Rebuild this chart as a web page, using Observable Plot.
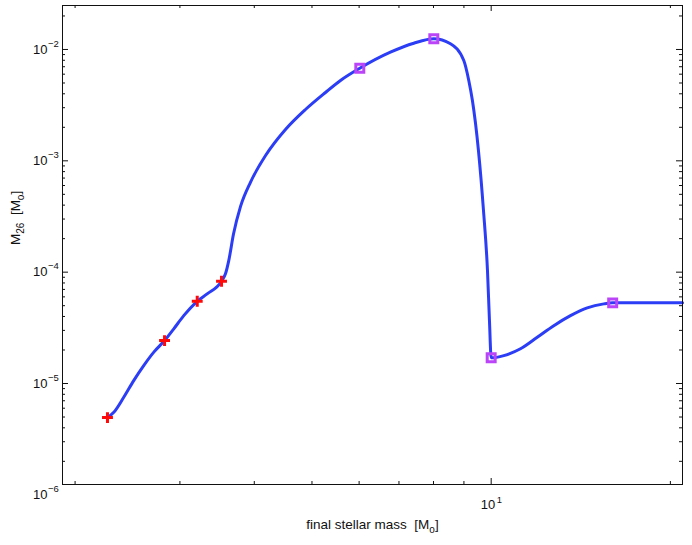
<!DOCTYPE html>
<html><head><meta charset="utf-8">
<script src="https://cdn.jsdelivr.net/npm/d3@7"></script>
<script src="https://cdn.jsdelivr.net/npm/@observablehq/plot@0.6"></script>
<style>body{margin:0;background:#fff}svg text{white-space:pre}</style>
</head><body><div id="chart"></div>
<script>
// Curve samples (final stellar mass, M26)
const curveX = [2.267, 2.323, 2.414, 2.509, 2.608, 2.712, 2.827, 2.930, 3.045, 3.208, 3.333, 3.524, 3.578, 3.624, 3.691, 3.793, 3.943, 4.178, 4.513, 4.876, 5.268, 5.583, 6.016, 6.772, 7.413, 8.01, 8.543, 8.995, 9.17, 9.30, 9.52, 9.707, 9.858, 9.934, 10.0, 10.50, 11.20, 11.95, 12.74, 13.59, 14.50, 15.46, 16.0, 20.96];
const curveY = [4.94e-6, 5.51e-6, 7.52e-6, 1.062e-5, 1.449e-5, 1.914e-5, 2.43e-5, 3.10e-5, 4.07e-5, 5.48e-5, 6.38e-5, 8.28e-5, 9.66e-5, 1.271e-4, 2.20e-4, 3.90e-4, 6.45e-4, 1.115e-3, 1.911e-3, 2.89e-3, 4.11e-3, 5.27e-3, 6.79e-3, 9.46e-3, 1.139e-2, 1.247e-2, 1.125e-2, 7.96e-3, 5.27e-3, 3.48e-3, 1.237e-3, 3.58e-4, 1.034e-4, 3.67e-5, 1.70e-5, 1.78e-5, 2.05e-5, 2.60e-5, 3.31e-5, 4.07e-5, 4.78e-5, 5.19e-5, 5.30e-5, 5.30e-5];
const plusX = [2.267, 2.827, 3.208, 3.524];
const plusY = [4.94e-6, 2.43e-5, 5.48e-5, 8.28e-5];
const squareX = [6.016, 8.01, 10.0, 16.0];
const squareY = [6.79e-3, 1.247e-2, 1.70e-5, 5.30e-5];
const xMajorTicks = [10];
const xMajorExps = ["1"];
const xMinorTicks = [2, 3, 4, 5, 6, 7, 8, 9, 20];
const yMajorTicks = [1e-2, 1e-3, 1e-4, 1e-5];
const yLabelValues = [1e-2, 1e-3, 1e-4, 1e-5, 1e-6];
const yLabelExps = ["\u22122", "\u22123", "\u22124", "\u22125", "\u22126"];
const xDomain = [1.905, 20.96];
const yDomain = [Math.pow(10, -5.907), Math.pow(10, -1.605)];

const W = 692, H = 545, mL = 62, mR = 10, mT = 5, mB = 61;
const fw = W - mL - mR, fh = H - mT - mB;

const yMinorTicks = [];
for (let e = -6; e <= -2; e++) for (let m = 2; m <= 9; m++) {
  const v = m * Math.pow(10, e);
  if (v > yDomain[0] && v < yDomain[1]) yMinorTicks.push(v);
}

const curve = curveX.map((x, i) => ({x, y: curveY[i]}));
const plus = plusX.map((x, i) => ({x, y: plusY[i]}));
const squares = squareX.map((x, i) => ({x, y: squareY[i]}));
const xLab = xMajorTicks.map((v, i) => ({v, e: xMajorExps[i]}));
const yLab = yLabelValues.map((v, i) => ({v, e: yLabelExps[i]}));

const XLABEL = "final stellar mass  [Mo]";
const YLABEL = "M26  [Mo]";
const ink = "#111";
const plot = Plot.plot({
  width: W, height: H,
  marginLeft: mL, marginRight: mR, marginTop: mT, marginBottom: mB,
  x: {type: "log", domain: xDomain, axis: null},
  y: {type: "log", domain: yDomain, axis: null},
  style: {fontFamily: "'Liberation Sans', Arial, sans-serif", background: "#fff", color: ink, overflow: "visible"},
  marks: [
    Plot.line(curve, {x: "x", y: "y", stroke: "#2b3df5", strokeWidth: 3, curve: "monotone-x"}),
    Plot.dot(squares, {x: "x", y: "y", symbol: "square", r: 4.5, stroke: "#bb44f8", strokeWidth: 3, fill: "none"}),
    Plot.dot(plus, {x: "x", y: "y", symbol: "plus", r: 3.6, stroke: "#ff0a0a", strokeWidth: 3}),
    Plot.frame({stroke: ink, strokeWidth: 1}),
    // x ticks (inward, bottom and top)
    Plot.ruleX(xMajorTicks, {x: d => d, insetTop: fh - 6, stroke: ink}),
    Plot.ruleX(xMajorTicks, {x: d => d, insetBottom: fh - 6, stroke: ink}),
    Plot.ruleX(xMinorTicks, {x: d => d, insetTop: fh - 3, stroke: ink}),
    Plot.ruleX(xMinorTicks, {x: d => d, insetBottom: fh - 3, stroke: ink}),
    // y ticks (inward, left and right)
    Plot.ruleY(yMajorTicks, {y: d => d, insetRight: fw - 6, stroke: ink}),
    Plot.ruleY(yMajorTicks, {y: d => d, insetLeft: fw - 6, stroke: ink}),
    Plot.ruleY(yMinorTicks, {y: d => d, insetRight: fw - 3, stroke: ink}),
    Plot.ruleY(yMinorTicks, {y: d => d, insetLeft: fw - 3, stroke: ink}),
    // y tick labels
    Plot.text(yLab, {y: "v", frameAnchor: "left", text: () => "10", textAnchor: "end", dx: -15, fontSize: 13, fill: ink}),
    Plot.text(yLab, {y: "v", frameAnchor: "left", text: "e", textAnchor: "start", dx: -14.5, dy: -6, fontSize: 9.5, fill: ink}),
    // x tick labels
    Plot.text(xLab, {x: "v", frameAnchor: "bottom", text: () => "10", textAnchor: "end", dx: 4, dy: 24, fontSize: 13, fill: ink}),
    Plot.text(xLab, {x: "v", frameAnchor: "bottom", text: "e", textAnchor: "start", dx: 5.5, dy: 18, fontSize: 9.5, fill: ink}),
    // axis labels
    Plot.text([XLABEL], {frameAnchor: "bottom", text: d => d, dy: 44, fontSize: 13.5, fill: ink}),
    Plot.text([YLABEL], {frameAnchor: "left", text: d => d, dx: -47, rotate: -90, fontSize: 13.5, fill: ink})
  ]
});
document.getElementById("chart").appendChild(plot);

// Subscripts in the axis labels (same text, split into tspans)
const sub = (s) => `<tspan dy="4" font-size="10">${s}</tspan>`;
d3.select(plot).selectAll("text").each(function() {
  const t = this.textContent;
  if (t === XLABEL) {
    d3.select(this).html(`final stellar mass\u00a0\u00a0[M${sub("o")}<tspan dy="-4">]</tspan>`);
  } else if (t === YLABEL) {
    d3.select(this).html(`M${sub("26")}<tspan dy="-4">\u00a0\u00a0[M</tspan>${sub("o")}<tspan dy="-4">]</tspan>`);
  }
});
</script>
</body></html>
